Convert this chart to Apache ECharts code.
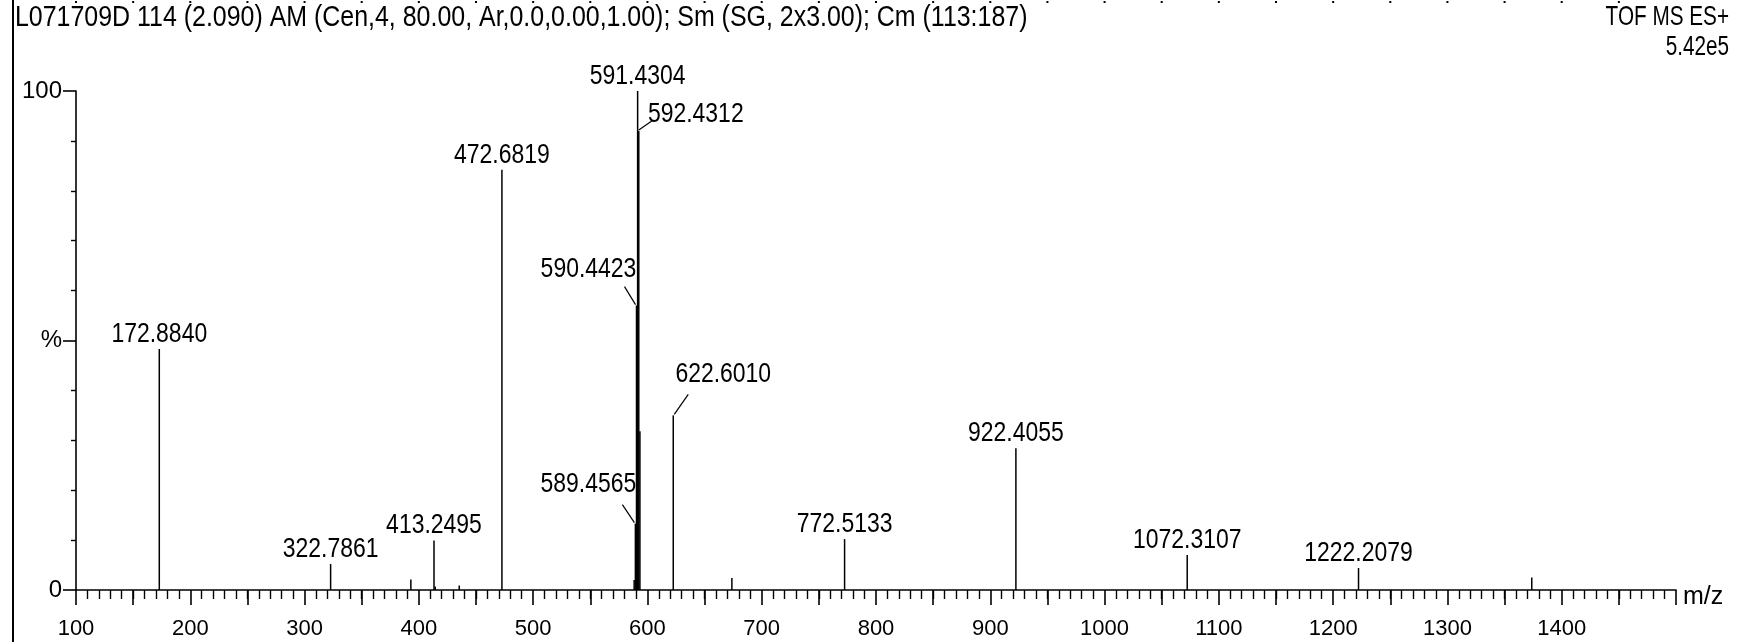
<!DOCTYPE html>
<html>
<head>
<meta charset="utf-8">
<script src="https://cdn.jsdelivr.net/npm/echarts@6/dist/echarts.min.js"></script>
<style>
html,body{margin:0;padding:0;background:#fff;}
#chart{width:1741px;height:642px;}
</style>
</head>
<body>
<div id="chart"></div>
<script>
// ---- data ----
const titleText = 'L071709D 114 (2.090) AM (Cen,4, 80.00, Ar,0.0,0.00,1.00); Sm (SG, 2x3.00); Cm (113:187)';
const modeText = 'TOF MS ES+';
const scaleText = '5.42e5';
const xAxisName = 'm/z';
const xTickValues = [100, 200, 300, 400, 500, 600, 700, 800, 900, 1000, 1100, 1200, 1300, 1400];
const yTickValues = [0, 50, 100];
const yTickLabels = ['0', '%', '100'];

const peakMz = [172.884, 322.7861, 393.0, 413.2495, 414.3, 435.3, 472.6819, 588.4, 589.4565, 590.4423, 591.4304, 592.4312, 593.43, 622.601, 673.9, 772.5133, 922.4055, 1072.3107, 1222.2079, 1373.8];
const peakIntensity = [48.3, 5.2, 2.1, 9.9, 0.7, 0.9, 84.2, 2.0, 13.3, 57.0, 100, 92.0, 31.8, 35.0, 2.4, 10.2, 28.4, 7.0, 4.4, 2.5];
const peakLabels = ['172.8840', '322.7861', null, '413.2495', null, null, '472.6819', null, '589.4565', '590.4423', '591.4304', '592.4312', null, '622.6010', null, '772.5133', '922.4055', '1072.3107', '1222.2079', null];

// ruler dots along the top edge (every 50 m/z)
const rulerTicks = [];
for (let v = 100; v <= 1450; v += 50) rulerTicks.push(v);
const majorTicks = [];
for (let v = 100; v <= 1500; v += 50) majorTicks.push(v);

// ---- presentation ----
const FONT = '"Liberation Sans", Arial, sans-serif';
const LABEL_SIZE = 28, LABEL_SX = 0.82;
// label placement (pixel offsets of label centre from the peak apex) and leader lines
const labelLayout = {
  '589.4565': {dx: -47, dy: -39, leader: [-1, -1, -13, -19]},
  '590.4423': {dx: -48, dy: -36, leader: [-1, -1, -12, -19]},
  '592.4312': {dx: 57, dy: -17, leader: [0, -1, 13, -10]},
  '622.6010': {dx: 50, dy: -41, leader: [1, -1, 15, -21]}
};

const chart = echarts.init(document.getElementById('chart'), null, {renderer: 'canvas'});

const option = {
  animation: false,
  backgroundColor: '#fff',
  grid: {left: 76, right: 65, top: 91, bottom: 52, containLabel: false},
  graphic: [
    {type: 'line', shape: {x1: 13, y1: 0, x2: 13, y2: 642}, style: {stroke: '#000', lineWidth: 2}},
    {type: 'text', x: 15, y: 18, scaleX: 0.86, style: {text: titleText, x: 0, y: 0, font: '29px ' + FONT, fill: '#000', align: 'left', verticalAlign: 'middle'}},
    {type: 'text', x: 1729, y: 17, scaleX: 0.74, style: {text: modeText, x: 0, y: 0, font: '28px ' + FONT, fill: '#000', align: 'right', verticalAlign: 'middle'}},
    {type: 'text', x: 1729, y: 47, scaleX: 0.74, style: {text: scaleText, x: 0, y: 0, font: '28px ' + FONT, fill: '#000', align: 'right', verticalAlign: 'middle'}}
  ],
  xAxis: {
    type: 'value', min: 100, max: 1500, interval: 100, position: 'bottom',
    name: xAxisName, nameLocation: 'end', nameGap: 7,
    nameTextStyle: {fontFamily: FONT, fontSize: 25, color: '#000', verticalAlign: 'top', lineHeight: 14},
    axisLine: {show: true, onZero: false, lineStyle: {color: '#000', width: 1.6}},
    axisTick: {show: true, inside: false, length: 15, customValues: majorTicks, lineStyle: {color: '#000', width: 1.6}},
    minorTick: {show: true, splitNumber: 10, length: 9, lineStyle: {color: '#000', width: 1.4}},
    axisLabel: {show: true, customValues: xTickValues, margin: 28, fontFamily: FONT, fontSize: 22, color: '#000',
      formatter: v => String(v)},
    splitLine: {show: false}
  },
  yAxis: {
    type: 'value', min: 0, max: 100, interval: 50,
    axisLine: {show: true, lineStyle: {color: '#000', width: 1.6}},
    axisTick: {show: true, length: 13, customValues: yTickValues, lineStyle: {color: '#000', width: 1.6}},
    minorTick: {show: true, splitNumber: 5, length: 5, lineStyle: {color: '#000', width: 1.4}},
    axisLabel: {show: true, margin: 14, fontFamily: FONT, fontSize: 24, color: '#000',
      customValues: yTickValues, formatter: v => yTickLabels[yTickValues.indexOf(v)]},
    splitLine: {show: false}
  },
  series: [{
    type: 'custom',
    clip: false,
    silent: true,
    data: rulerTicks.map(v => [v, 100]),
    renderItem: function (params, api) {
      const p = api.coord([api.value(0), 100]);
      return {type: 'rect', shape: {x: p[0] - 1, y: 1, width: 2, height: 2}, style: {fill: '#000'}};
    }
  }, {
    type: 'custom',
    clip: false,
    data: peakMz.map((m, i) => [m, peakIntensity[i]]),
    renderItem: function (params, api) {
      const m = api.value(0), v = api.value(1);
      const base = api.coord([m, 0]);
      const top = api.coord([m, v]);
      const children = [{
        type: 'line',
        shape: {x1: base[0], y1: base[1], x2: top[0], y2: top[1]},
        style: {stroke: '#000', lineWidth: 1.5}
      }];
      const lbl = peakLabels[params.dataIndex];
      if (lbl) {
        const lay = labelLayout[lbl] || {dx: 0, dy: -15};
        children.push({type: 'text', x: top[0] + lay.dx, y: top[1] + lay.dy, scaleX: LABEL_SX,
          style: {text: lbl, x: 0, y: 0, align: 'center', verticalAlign: 'middle',
            font: LABEL_SIZE + 'px ' + FONT, fill: '#000'}});
        if (lay.leader) {
          const L = lay.leader;
          children.push({type: 'line', shape: {x1: top[0] + L[0], y1: top[1] + L[1], x2: top[0] + L[2], y2: top[1] + L[3]},
            style: {stroke: '#000', lineWidth: 1.2}});
        }
      }
      return {type: 'group', children: children};
    }
  }]
};
chart.setOption(option);
</script>
</body>
</html>
